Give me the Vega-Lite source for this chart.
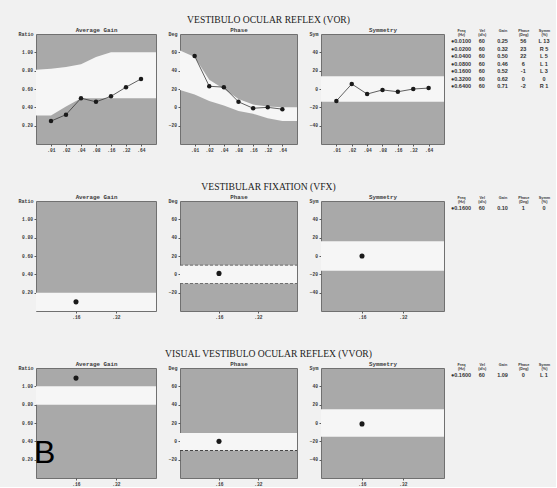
{
"$schema": "https://vega.github.io/schema/vega-lite/v6.json",
"background": "#f1f1f1",
"padding": {"left": 17, "top": 14, "right": 0, "bottom": 0},
"bounds": "flush",
"columns": 4,
"spacing": {"row": 57, "column": 24},
"config": {
  "view": {"fill": "#a9a9a9", "stroke": "#707070", "strokeWidth": 1},
  "axis": {"labelFont": "Liberation Mono", "labelFontSize": 4.6, "labelFontWeight": "bold", "labelColor": "#3a3a3a", "titleFont": "Liberation Mono", "titleFontSize": 5, "titleFontWeight": "bold", "titleColor": "#3a3a3a", "tickColor": "#5a5a5a", "tickSize": 2, "domain": false, "grid": false, "labelPadding": 1.5},
  "axisLeft": {"titleAngle": 0, "titleAlign": "right", "titleBaseline": "bottom", "titleX": -3, "titleY": 2},
  "axisTop": {"labels": false, "ticks": false, "titlePadding": 1.5, "titleFontSize": 5.8},
  "title": {"font": "Liberation Serif", "fontSize": 9.6, "fontWeight": "normal", "color": "#222222", "anchor": "middle", "frame": "group", "offset": 2, "dx": 30}
},
"datasets": {
  "gVOR": [{"freq":0.01,"gain":0.25},{"freq":0.02,"gain":0.32},{"freq":0.04,"gain":0.5},{"freq":0.08,"gain":0.46},{"freq":0.16,"gain":0.52},{"freq":0.32,"gain":0.62},{"freq":0.64,"gain":0.71}],
  "gNormVOR": [{"freq":0.005,"lo":0.31,"hi":0.81},{"freq":0.01,"lo":0.31,"hi":0.82},{"freq":0.02,"lo":0.41,"hi":0.84},{"freq":0.04,"lo":0.5,"hi":0.87},{"freq":0.08,"lo":0.5,"hi":0.95},{"freq":0.16,"lo":0.5,"hi":1.0},{"freq":0.32,"lo":0.5,"hi":1.0},{"freq":0.64,"lo":0.5,"hi":1.0},{"freq":1.28,"lo":0.5,"hi":1.0}],
  "pVOR": [{"freq":0.01,"phase":56},{"freq":0.02,"phase":23},{"freq":0.04,"phase":22},{"freq":0.08,"phase":6},{"freq":0.16,"phase":-1},{"freq":0.32,"phase":0},{"freq":0.64,"phase":-2}],
  "pNormVOR": [{"freq":0.005,"lo":19,"hi":62},{"freq":0.01,"lo":14,"hi":55},{"freq":0.02,"lo":7,"hi":30},{"freq":0.04,"lo":2,"hi":20},{"freq":0.08,"lo":-4,"hi":9},{"freq":0.16,"lo":-7,"hi":3},{"freq":0.32,"lo":-12,"hi":1},{"freq":0.64,"lo":-15,"hi":0},{"freq":1.28,"lo":-15,"hi":0}],
  "sVOR": [{"freq":0.01,"sym":-13},{"freq":0.02,"sym":5.5},{"freq":0.04,"sym":-5.5},{"freq":0.08,"sym":-1},{"freq":0.16,"sym":-3},{"freq":0.32,"sym":0},{"freq":0.64,"sym":1}],
  "sNormVOR": [{"freq":0.005,"lo":-14,"hi":14},{"freq":1.28,"lo":-14,"hi":14}],
  "gVFX": [{"freq":0.16,"gain":0.1}],
  "gNormVFX": [{"freq":0.08,"lo":0,"hi":0.2},{"freq":0.64,"lo":0,"hi":0.2}],
  "pVFX": [{"freq":0.16,"phase":1}],
  "pNormVFX": [{"freq":0.08,"lo":-10,"hi":10},{"freq":0.64,"lo":-10,"hi":10}],
  "sVFX": [{"freq":0.16,"sym":0}],
  "sNormVFX": [{"freq":0.08,"lo":-16,"hi":16},{"freq":0.64,"lo":-16,"hi":16}],
  "gVVOR": [{"freq":0.16,"gain":1.09}],
  "gNormVVOR": [{"freq":0.08,"lo":0.8,"hi":1.0},{"freq":0.64,"lo":0.8,"hi":1.0}],
  "pVVOR": [{"freq":0.16,"phase":0}],
  "pNormVVOR": [{"freq":0.08,"lo":-10,"hi":9},{"freq":0.64,"lo":-10,"hi":9}],
  "sVVOR": [{"freq":0.16,"sym":-1}],
  "sNormVVOR": [{"freq":0.08,"lo":-15,"hi":15},{"freq":0.64,"lo":-15,"hi":15}],
  "figLabel": [{"label":"B","freq":0.08,"gain":0.162}],
  "tVOR": [{"f":"●0.0100","v":"60","g":"0.25","p":"56","s":"L 13"},{"f":"●0.0200","v":"60","g":"0.32","p":"23","s":"R 5"},{"f":"●0.0400","v":"60","g":"0.50","p":"22","s":"L 5"},{"f":"●0.0800","v":"60","g":"0.46","p":"6","s":"L 1"},{"f":"●0.1600","v":"60","g":"0.52","p":"-1","s":"L 3"},{"f":"●0.3200","v":"60","g":"0.62","p":"0","s":"0"},{"f":"●0.6400","v":"60","g":"0.71","p":"-2","s":"R 1"}],
  "tVFX": [{"f":"●0.1600","v":"60","g":"0.10","p":"1","s":"0"}],
  "tVVOR": [{"f":"●0.1600","v":"60","g":"1.09","p":"0","s":"L 1"}]
},
"concat": [
  {
    "width": 120, "height": 110,
    "resolve": {"axis": {"x": "independent"}},
    "layer": [
      {"data": {"name": "gNormVOR"}, "mark": {"type": "area", "color": "#f6f6f6", "opacity": 1},
       "encoding": {
         "x": {"field": "freq", "type": "quantitative", "scale": {"type": "log", "domain": [0.005, 1.28], "nice": false}, "axis": {"orient": "top", "title": "Average Gain"}},
         "y": {"field": "hi", "type": "quantitative", "scale": {"domain": [0, 1.2], "nice": false}, "axis": {"title": "Ratio", "values": [0.2, 0.4, 0.6, 0.8, 1.0], "format": ".2f"}},
         "y2": {"field": "lo"}}},
      {"data": {"name": "gVOR"}, "mark": {"type": "line", "color": "#3a3a3a", "strokeWidth": 0.8},
       "encoding": {
         "x": {"field": "freq", "type": "quantitative", "axis": {"orient": "bottom", "title": null, "values": [0.01, 0.02, 0.04, 0.08, 0.16, 0.32, 0.64], "labelExpr": "slice(format(datum.value, '.2f'), 1)"}},
         "y": {"field": "gain", "type": "quantitative", "axis": {"title": "Ratio", "values": [0.2, 0.4, 0.6, 0.8, 1.0], "format": ".2f"}}}},
      {"data": {"name": "gVOR"}, "mark": {"type": "point", "filled": true, "size": 20, "color": "#1a1a1a", "opacity": 1},
       "encoding": {
         "x": {"field": "freq", "type": "quantitative", "axis": null},
         "y": {"field": "gain", "type": "quantitative", "axis": {"title": "Ratio", "values": [0.2, 0.4, 0.6, 0.8, 1.0], "format": ".2f"}}}}
    ]
  },
  {
    "width": 117, "height": 110,
    "title": {"text": "VESTIBULO OCULAR REFLEX (VOR)"},
    "resolve": {"axis": {"x": "independent"}},
    "layer": [
      {"data": {"name": "pNormVOR"}, "mark": {"type": "area", "color": "#f6f6f6", "opacity": 1},
       "encoding": {
         "x": {"field": "freq", "type": "quantitative", "scale": {"type": "log", "domain": [0.005, 1.28], "nice": false}, "axis": {"orient": "top", "title": "Phase"}},
         "y": {"field": "hi", "type": "quantitative", "scale": {"domain": [-40, 80], "nice": false}, "axis": {"title": "Deg", "values": [-20, 0, 20, 40, 60]}},
         "y2": {"field": "lo"}}},
      {"data": {"name": "pVOR"}, "mark": {"type": "line", "color": "#3a3a3a", "strokeWidth": 0.8},
       "encoding": {
         "x": {"field": "freq", "type": "quantitative", "axis": {"orient": "bottom", "title": null, "values": [0.01, 0.02, 0.04, 0.08, 0.16, 0.32, 0.64], "labelExpr": "slice(format(datum.value, '.2f'), 1)"}},
         "y": {"field": "phase", "type": "quantitative", "axis": {"title": "Deg", "values": [-20, 0, 20, 40, 60]}}}},
      {"data": {"name": "pVOR"}, "mark": {"type": "point", "filled": true, "size": 20, "color": "#1a1a1a", "opacity": 1},
       "encoding": {
         "x": {"field": "freq", "type": "quantitative", "axis": null},
         "y": {"field": "phase", "type": "quantitative", "axis": {"title": "Deg", "values": [-20, 0, 20, 40, 60]}}}}
    ]
  },
  {
    "width": 123, "height": 110,
    "resolve": {"axis": {"x": "independent"}},
    "layer": [
      {"data": {"name": "sNormVOR"}, "mark": {"type": "area", "color": "#f6f6f6", "opacity": 1},
       "encoding": {
         "x": {"field": "freq", "type": "quantitative", "scale": {"type": "log", "domain": [0.005, 1.28], "nice": false}, "axis": {"orient": "top", "title": "Symmetry"}},
         "y": {"field": "hi", "type": "quantitative", "scale": {"domain": [-60, 60], "nice": false}, "axis": {"title": "Sym", "values": [-40, -20, 0, 20, 40]}},
         "y2": {"field": "lo"}}},
      {"mark": {"type": "rule", "color": "#9a9a9a", "strokeWidth": 0.6},
       "encoding": {"y": {"datum": 0, "type": "quantitative", "axis": {"title": "Sym", "values": [-40, -20, 0, 20, 40]}}}},
      {"data": {"name": "sVOR"}, "mark": {"type": "line", "color": "#3a3a3a", "strokeWidth": 0.8},
       "encoding": {
         "x": {"field": "freq", "type": "quantitative", "axis": {"orient": "bottom", "title": null, "values": [0.01, 0.02, 0.04, 0.08, 0.16, 0.32, 0.64], "labelExpr": "slice(format(datum.value, '.2f'), 1)"}},
         "y": {"field": "sym", "type": "quantitative", "axis": {"title": "Sym", "values": [-40, -20, 0, 20, 40]}}}},
      {"data": {"name": "sVOR"}, "mark": {"type": "point", "filled": true, "size": 20, "color": "#1a1a1a", "opacity": 1},
       "encoding": {
         "x": {"field": "freq", "type": "quantitative", "axis": null},
         "y": {"field": "sym", "type": "quantitative", "axis": {"title": "Sym", "values": [-40, -20, 0, 20, 40]}}}}
    ]
  },
  {
    "width": 88, "height": 110,
    "view": {"fill": null, "stroke": null},
    "data": {"name": "tVOR"},
    "encoding": {"y": {"field": "f", "type": "nominal", "sort": null, "scale": {"type": "point", "range": [7, 52], "padding": 0}, "axis": null}},
    "layer": [
      {"mark": {"type": "text", "fontSize": 5.5, "font": "Liberation Sans", "fontWeight": "bold", "color": "#333333"},
       "encoding": {"x": {"datum": "Freq (Hz)", "type": "nominal", "scale": {"type": "point", "domain": ["Freq (Hz)", "Vel (d/s)", "Gain", "Phase (Deg)", "Symm (%)"], "range": [-7, 76], "padding": 0}, "axis": {"orient": "top", "title": null, "labels": true, "ticks": false, "labelAngle": 0, "labelExpr": "split(datum.label, ' ')", "labelPadding": 1.5, "labelFontSize": 3.8, "labelLineHeight": 3.8, "labelFont": "Liberation Sans", "labelFontWeight": "bold", "labelBaseline": "bottom"}}, "text": {"field": "f"}}},
      {"mark": {"type": "text", "fontSize": 5.5, "font": "Liberation Sans", "fontWeight": "bold", "color": "#333333"},
       "encoding": {"x": {"datum": "Vel (d/s)", "type": "nominal"}, "text": {"field": "v"}}},
      {"mark": {"type": "text", "fontSize": 5.5, "font": "Liberation Sans", "fontWeight": "bold", "color": "#333333"},
       "encoding": {"x": {"datum": "Gain", "type": "nominal"}, "text": {"field": "g"}}},
      {"mark": {"type": "text", "fontSize": 5.5, "font": "Liberation Sans", "fontWeight": "bold", "color": "#333333"},
       "encoding": {"x": {"datum": "Phase (Deg)", "type": "nominal"}, "text": {"field": "p"}}},
      {"mark": {"type": "text", "fontSize": 5.5, "font": "Liberation Sans", "fontWeight": "bold", "color": "#333333"},
       "encoding": {"x": {"datum": "Symm (%)", "type": "nominal"}, "text": {"field": "s"}}}
    ]
  },
  {
    "width": 120, "height": 110,
    "resolve": {"axis": {"x": "independent"}},
    "layer": [
      {"data": {"name": "gNormVFX"}, "mark": {"type": "area", "color": "#f6f6f6", "opacity": 1},
       "encoding": {
         "x": {"field": "freq", "type": "quantitative", "scale": {"type": "log", "domain": [0.08, 0.64], "nice": false}, "axis": {"orient": "top", "title": "Average Gain"}},
         "y": {"field": "hi", "type": "quantitative", "scale": {"domain": [0, 1.2], "nice": false}, "axis": {"title": "Ratio", "values": [0.2, 0.4, 0.6, 0.8, 1.0], "format": ".2f"}},
         "y2": {"field": "lo"}}},
      {"data": {"name": "gVFX"}, "mark": {"type": "point", "filled": true, "size": 26, "color": "#1a1a1a", "opacity": 1},
       "encoding": {
         "x": {"field": "freq", "type": "quantitative", "axis": {"orient": "bottom", "title": null, "values": [0.16, 0.32], "labelExpr": "slice(format(datum.value, '.2f'), 1)"}},
         "y": {"field": "gain", "type": "quantitative", "axis": {"title": "Ratio", "values": [0.2, 0.4, 0.6, 0.8, 1.0], "format": ".2f"}}}}
    ]
  },
  {
    "width": 117, "height": 110,
    "title": {"text": "VESTIBULAR FIXATION (VFX)"},
    "resolve": {"axis": {"x": "independent"}},
    "layer": [
      {"data": {"name": "pNormVFX"}, "mark": {"type": "area", "color": "#f6f6f6", "opacity": 1},
       "encoding": {
         "x": {"field": "freq", "type": "quantitative", "scale": {"type": "log", "domain": [0.08, 0.64], "nice": false}, "axis": {"orient": "top", "title": "Phase"}},
         "y": {"field": "hi", "type": "quantitative", "scale": {"domain": [-40, 80], "nice": false}, "axis": {"title": "Deg", "values": [-20, 0, 20, 40, 60]}},
         "y2": {"field": "lo"}}},
      {"data": {"name": "pNormVFX"}, "mark": {"type": "line", "color": "#555555", "strokeWidth": 0.8, "strokeDash": [3, 2]},
       "encoding": {"x": {"field": "freq", "type": "quantitative", "axis": null}, "y": {"field": "hi", "type": "quantitative", "axis": {"title": "Deg", "values": [-20, 0, 20, 40, 60]}}}},
      {"data": {"name": "pNormVFX"}, "mark": {"type": "line", "color": "#555555", "strokeWidth": 0.8, "strokeDash": [3, 2]},
       "encoding": {"x": {"field": "freq", "type": "quantitative", "axis": null}, "y": {"field": "lo", "type": "quantitative", "axis": {"title": "Deg", "values": [-20, 0, 20, 40, 60]}}}},
      {"data": {"name": "pVFX"}, "mark": {"type": "point", "filled": true, "size": 26, "color": "#1a1a1a", "opacity": 1},
       "encoding": {
         "x": {"field": "freq", "type": "quantitative", "axis": {"orient": "bottom", "title": null, "values": [0.16, 0.32], "labelExpr": "slice(format(datum.value, '.2f'), 1)"}},
         "y": {"field": "phase", "type": "quantitative", "axis": {"title": "Deg", "values": [-20, 0, 20, 40, 60]}}}}
    ]
  },
  {
    "width": 123, "height": 110,
    "resolve": {"axis": {"x": "independent"}},
    "layer": [
      {"data": {"name": "sNormVFX"}, "mark": {"type": "area", "color": "#f6f6f6", "opacity": 1},
       "encoding": {
         "x": {"field": "freq", "type": "quantitative", "scale": {"type": "log", "domain": [0.08, 0.64], "nice": false}, "axis": {"orient": "top", "title": "Symmetry"}},
         "y": {"field": "hi", "type": "quantitative", "scale": {"domain": [-60, 60], "nice": false}, "axis": {"title": "Sym", "values": [-40, -20, 0, 20, 40]}},
         "y2": {"field": "lo"}}},
      {"mark": {"type": "rule", "color": "#9a9a9a", "strokeWidth": 0.6},
       "encoding": {"y": {"datum": 0, "type": "quantitative", "axis": {"title": "Sym", "values": [-40, -20, 0, 20, 40]}}}},
      {"data": {"name": "sVFX"}, "mark": {"type": "point", "filled": true, "size": 26, "color": "#1a1a1a", "opacity": 1},
       "encoding": {
         "x": {"field": "freq", "type": "quantitative", "axis": {"orient": "bottom", "title": null, "values": [0.16, 0.32], "labelExpr": "slice(format(datum.value, '.2f'), 1)"}},
         "y": {"field": "sym", "type": "quantitative", "axis": {"title": "Sym", "values": [-40, -20, 0, 20, 40]}}}}
    ]
  },
  {
    "width": 88, "height": 110,
    "view": {"fill": null, "stroke": null},
    "data": {"name": "tVFX"},
    "encoding": {"y": {"field": "f", "type": "nominal", "sort": null, "scale": {"type": "point", "range": [7, 7], "padding": 0}, "axis": null}},
    "layer": [
      {"mark": {"type": "text", "fontSize": 5.5, "font": "Liberation Sans", "fontWeight": "bold", "color": "#333333"},
       "encoding": {"x": {"datum": "Freq (Hz)", "type": "nominal", "scale": {"type": "point", "domain": ["Freq (Hz)", "Vel (d/s)", "Gain", "Phase (Deg)", "Symm (%)"], "range": [-7, 76], "padding": 0}, "axis": {"orient": "top", "title": null, "labels": true, "ticks": false, "labelAngle": 0, "labelExpr": "split(datum.label, ' ')", "labelPadding": 1.5, "labelFontSize": 3.8, "labelLineHeight": 3.8, "labelFont": "Liberation Sans", "labelFontWeight": "bold", "labelBaseline": "bottom"}}, "text": {"field": "f"}}},
      {"mark": {"type": "text", "fontSize": 5.5, "font": "Liberation Sans", "fontWeight": "bold", "color": "#333333"},
       "encoding": {"x": {"datum": "Vel (d/s)", "type": "nominal"}, "text": {"field": "v"}}},
      {"mark": {"type": "text", "fontSize": 5.5, "font": "Liberation Sans", "fontWeight": "bold", "color": "#333333"},
       "encoding": {"x": {"datum": "Gain", "type": "nominal"}, "text": {"field": "g"}}},
      {"mark": {"type": "text", "fontSize": 5.5, "font": "Liberation Sans", "fontWeight": "bold", "color": "#333333"},
       "encoding": {"x": {"datum": "Phase (Deg)", "type": "nominal"}, "text": {"field": "p"}}},
      {"mark": {"type": "text", "fontSize": 5.5, "font": "Liberation Sans", "fontWeight": "bold", "color": "#333333"},
       "encoding": {"x": {"datum": "Symm (%)", "type": "nominal"}, "text": {"field": "s"}}}
    ]
  },
  {
    "width": 120, "height": 110,
    "resolve": {"axis": {"x": "independent"}},
    "layer": [
      {"data": {"name": "gNormVVOR"}, "mark": {"type": "area", "color": "#f6f6f6", "opacity": 1},
       "encoding": {
         "x": {"field": "freq", "type": "quantitative", "scale": {"type": "log", "domain": [0.08, 0.64], "nice": false}, "axis": {"orient": "top", "title": "Average Gain"}},
         "y": {"field": "hi", "type": "quantitative", "scale": {"domain": [0, 1.2], "nice": false}, "axis": {"title": "Ratio", "values": [0.2, 0.4, 0.6, 0.8, 1.0], "format": ".2f"}},
         "y2": {"field": "lo"}}},
      {"data": {"name": "gVVOR"}, "mark": {"type": "point", "filled": true, "size": 26, "color": "#1a1a1a", "opacity": 1},
       "encoding": {
         "x": {"field": "freq", "type": "quantitative", "axis": {"orient": "bottom", "title": null, "values": [0.16, 0.32], "labelExpr": "slice(format(datum.value, '.2f'), 1)"}},
         "y": {"field": "gain", "type": "quantitative", "axis": {"title": "Ratio", "values": [0.2, 0.4, 0.6, 0.8, 1.0], "format": ".2f"}}}},
      {"data": {"name": "figLabel"}, "mark": {"type": "text", "font": "Liberation Sans", "fontSize": 32, "color": "#000000", "align": "left", "baseline": "alphabetic", "dx": -2},
       "encoding": {
         "x": {"field": "freq", "type": "quantitative", "axis": null},
         "y": {"field": "gain", "type": "quantitative", "axis": {"title": "Ratio", "values": [0.2, 0.4, 0.6, 0.8, 1.0], "format": ".2f"}},
         "text": {"field": "label"}}}
    ]
  },
  {
    "width": 117, "height": 110,
    "title": {"text": "VISUAL VESTIBULO OCULAR REFLEX (VVOR)"},
    "resolve": {"axis": {"x": "independent"}},
    "layer": [
      {"data": {"name": "pNormVVOR"}, "mark": {"type": "area", "color": "#f6f6f6", "opacity": 1},
       "encoding": {
         "x": {"field": "freq", "type": "quantitative", "scale": {"type": "log", "domain": [0.08, 0.64], "nice": false}, "axis": {"orient": "top", "title": "Phase"}},
         "y": {"field": "hi", "type": "quantitative", "scale": {"domain": [-40, 80], "nice": false}, "axis": {"title": "Deg", "values": [-20, 0, 20, 40, 60]}},
         "y2": {"field": "lo"}}},
      {"data": {"name": "pNormVVOR"}, "mark": {"type": "line", "color": "#444444", "strokeWidth": 1, "strokeDash": [3, 2]},
       "encoding": {"x": {"field": "freq", "type": "quantitative", "axis": null}, "y": {"field": "lo", "type": "quantitative", "axis": {"title": "Deg", "values": [-20, 0, 20, 40, 60]}}}},
      {"data": {"name": "pVVOR"}, "mark": {"type": "point", "filled": true, "size": 26, "color": "#1a1a1a", "opacity": 1},
       "encoding": {
         "x": {"field": "freq", "type": "quantitative", "axis": {"orient": "bottom", "title": null, "values": [0.16, 0.32], "labelExpr": "slice(format(datum.value, '.2f'), 1)"}},
         "y": {"field": "phase", "type": "quantitative", "axis": {"title": "Deg", "values": [-20, 0, 20, 40, 60]}}}}
    ]
  },
  {
    "width": 123, "height": 110,
    "resolve": {"axis": {"x": "independent"}},
    "layer": [
      {"data": {"name": "sNormVVOR"}, "mark": {"type": "area", "color": "#f6f6f6", "opacity": 1},
       "encoding": {
         "x": {"field": "freq", "type": "quantitative", "scale": {"type": "log", "domain": [0.08, 0.64], "nice": false}, "axis": {"orient": "top", "title": "Symmetry"}},
         "y": {"field": "hi", "type": "quantitative", "scale": {"domain": [-60, 60], "nice": false}, "axis": {"title": "Sym", "values": [-40, -20, 0, 20, 40]}},
         "y2": {"field": "lo"}}},
      {"mark": {"type": "rule", "color": "#9a9a9a", "strokeWidth": 0.6},
       "encoding": {"y": {"datum": 0, "type": "quantitative", "axis": {"title": "Sym", "values": [-40, -20, 0, 20, 40]}}}},
      {"data": {"name": "sVVOR"}, "mark": {"type": "point", "filled": true, "size": 26, "color": "#1a1a1a", "opacity": 1},
       "encoding": {
         "x": {"field": "freq", "type": "quantitative", "axis": {"orient": "bottom", "title": null, "values": [0.16, 0.32], "labelExpr": "slice(format(datum.value, '.2f'), 1)"}},
         "y": {"field": "sym", "type": "quantitative", "axis": {"title": "Sym", "values": [-40, -20, 0, 20, 40]}}}}
    ]
  },
  {
    "width": 88, "height": 110,
    "view": {"fill": null, "stroke": null},
    "data": {"name": "tVVOR"},
    "encoding": {"y": {"field": "f", "type": "nominal", "sort": null, "scale": {"type": "point", "range": [7, 7], "padding": 0}, "axis": null}},
    "layer": [
      {"mark": {"type": "text", "fontSize": 5.5, "font": "Liberation Sans", "fontWeight": "bold", "color": "#333333"},
       "encoding": {"x": {"datum": "Freq (Hz)", "type": "nominal", "scale": {"type": "point", "domain": ["Freq (Hz)", "Vel (d/s)", "Gain", "Phase (Deg)", "Symm (%)"], "range": [-7, 76], "padding": 0}, "axis": {"orient": "top", "title": null, "labels": true, "ticks": false, "labelAngle": 0, "labelExpr": "split(datum.label, ' ')", "labelPadding": 1.5, "labelFontSize": 3.8, "labelLineHeight": 3.8, "labelFont": "Liberation Sans", "labelFontWeight": "bold", "labelBaseline": "bottom"}}, "text": {"field": "f"}}},
      {"mark": {"type": "text", "fontSize": 5.5, "font": "Liberation Sans", "fontWeight": "bold", "color": "#333333"},
       "encoding": {"x": {"datum": "Vel (d/s)", "type": "nominal"}, "text": {"field": "v"}}},
      {"mark": {"type": "text", "fontSize": 5.5, "font": "Liberation Sans", "fontWeight": "bold", "color": "#333333"},
       "encoding": {"x": {"datum": "Gain", "type": "nominal"}, "text": {"field": "g"}}},
      {"mark": {"type": "text", "fontSize": 5.5, "font": "Liberation Sans", "fontWeight": "bold", "color": "#333333"},
       "encoding": {"x": {"datum": "Phase (Deg)", "type": "nominal"}, "text": {"field": "p"}}},
      {"mark": {"type": "text", "fontSize": 5.5, "font": "Liberation Sans", "fontWeight": "bold", "color": "#333333"},
       "encoding": {"x": {"datum": "Symm (%)", "type": "nominal"}, "text": {"field": "s"}}}
    ]
  }
]
}
